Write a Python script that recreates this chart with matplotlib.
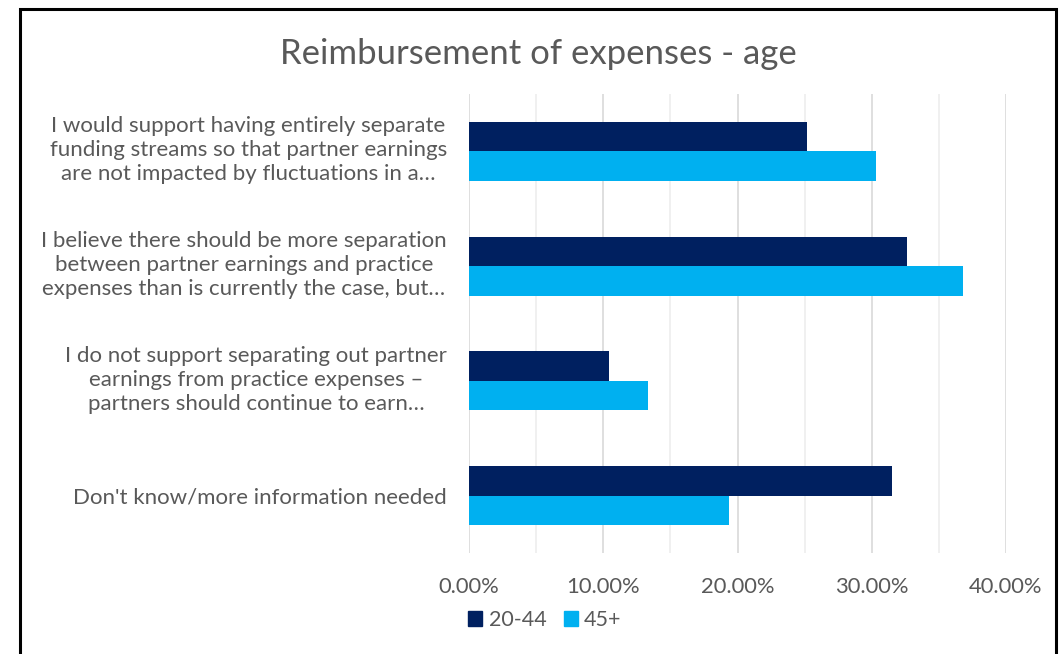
import matplotlib.pyplot as plt
import matplotlib.transforms as mtransforms
from matplotlib.patches import Patch, Rectangle
from matplotlib.ticker import FuncFormatter, MultipleLocator

plt.rcParams['font.family'] = ['Lato', 'DejaVu Sans']

categories = [
    "I would support having entirely separate\nfunding streams so that partner earnings\nare not impacted by fluctuations in a…",
    "I believe there should be more separation\nbetween partner earnings and practice\nexpenses than is currently the case, but…",
    "I do not support separating out partner\nearnings from practice expenses –\npartners should continue to earn…",
    "Don't know/more information needed",
]
age_20_44 = [25.2, 32.6, 10.4, 31.5]
age_45_plus = [30.3, 36.8, 13.3, 19.4]

dark = '#002060'
light = '#00B0F0'
grey = '#595959'

W, H = 1061, 654
fig = plt.figure(figsize=(W / 100, H / 100), dpi=100, facecolor='white')
ax = fig.add_axes([469 / W, 1 - 553 / H, (1006 - 469) / W, (553 - 94) / H])

h = 0.257
ys = range(len(categories))
ax.barh([y - h / 2 for y in ys], age_20_44, height=h, color=dark, label='20-44', zorder=3)
ax.barh([y + h / 2 for y in ys], age_45_plus, height=h, color=light, label='45+', zorder=3)

ax.set_xlim(0, 40)
ax.set_ylim(3.5, -0.5)
ax.xaxis.set_major_locator(MultipleLocator(10))
ax.xaxis.set_minor_locator(MultipleLocator(5))
ax.xaxis.set_major_formatter(FuncFormatter(lambda v, p: f'{v:.2f}%'))
ax.grid(axis='x', which='major', color='#D9D9D9', linewidth=1.2, zorder=0)
ax.grid(axis='x', which='minor', color='#EDEDED', linewidth=1.2, zorder=0)
for s in ax.spines.values():
    s.set_visible(False)
ax.tick_params(axis='both', which='both', length=0, colors=grey, labelsize=15.8)
ax.tick_params(axis='x', pad=17)
ax.tick_params(axis='y', pad=16)

ax.set_yticks(list(ys))
ax.set_yticklabels(categories, multialignment='center', linespacing=1.24, fontsize=16)
# nudge the wrapped labels up a little
shift = mtransforms.ScaledTranslation(0, 5 / 100, fig.dpi_scale_trans)
for lbl in ax.get_yticklabels():
    if '\n' in lbl.get_text():
        lbl.set_transform(lbl.get_transform() + shift)

fig.text(538 / W, 1 - 54 / H, 'Reimbursement of expenses - age', ha='center', va='center',
         fontsize=25, color=grey)

handles = [Patch(color=dark, label='20-44'), Patch(color=light, label='45+')]
fig.legend(handles=handles, loc='center left', bbox_to_anchor=(449 / W, 1 - 620 / H),
           ncol=2, frameon=False, fontsize=15.5, labelcolor=grey,
           handlelength=0.65, handleheight=0.65, handletextpad=0.3, columnspacing=0.8)

# chart border
fig.add_artist(Rectangle((20 / W, -0.02), (1056 - 20) / W, 1.02 - 9 / H, transform=fig.transFigure,
                         fill=False, edgecolor='black', linewidth=2.2, clip_on=False))

fig.savefig('out.png', dpi=100, facecolor='white')
